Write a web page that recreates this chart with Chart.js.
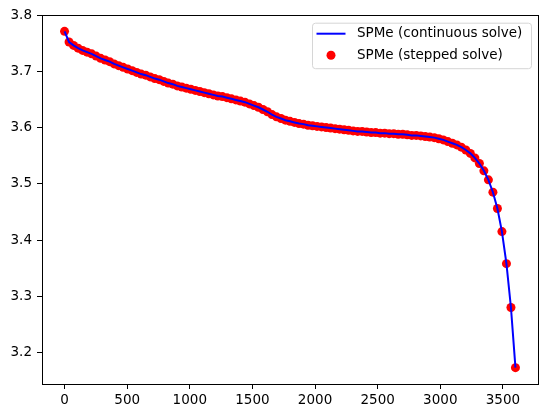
<!DOCTYPE html>
<html>
<head>
<meta charset="utf-8">
<script src="https://cdn.jsdelivr.net/npm/chart.js@4/dist/chart.umd.min.js"></script>
<style>
  html, body { margin: 0; padding: 0; background: #fff; }
  #wrap { width: 547px; height: 418px; }
</style>
</head>
<body>
<div id="wrap"><canvas id="myChart" width="547" height="418"></canvas></div>
<script>
// time [s] of each step
const times = [
  0, 36, 72, 108, 144, 180, 216, 252, 288, 324,
  360, 396, 432, 468, 504, 540, 576, 612, 648, 684,
  720, 756, 792, 828, 864, 900, 936, 972, 1008, 1044,
  1080, 1116, 1152, 1188, 1224, 1260, 1296, 1332, 1368, 1404,
  1440, 1476, 1512, 1548, 1584, 1620, 1656, 1692, 1728, 1764,
  1800, 1836, 1872, 1908, 1944, 1980, 2016, 2052, 2088, 2124,
  2160, 2196, 2232, 2268, 2304, 2340, 2376, 2412, 2448, 2484,
  2520, 2556, 2592, 2628, 2664, 2700, 2736, 2772, 2808, 2844,
  2880, 2916, 2952, 2988, 3024, 3060, 3096, 3132, 3168, 3204,
  3240, 3276, 3312, 3348, 3384, 3420, 3456, 3492, 3528, 3564,
  3600
];

// terminal voltage [V]
const voltage = [
  3.771, 3.752, 3.746, 3.741, 3.737, 3.734, 3.731, 3.727, 3.723, 3.720,
  3.717, 3.713, 3.710, 3.707, 3.704, 3.701, 3.698, 3.695, 3.693, 3.690,
  3.687, 3.685, 3.682, 3.679, 3.677, 3.674, 3.672, 3.670, 3.668, 3.666,
  3.664, 3.662, 3.660, 3.658, 3.656, 3.655, 3.653, 3.651, 3.649, 3.647,
  3.645, 3.642, 3.639, 3.636, 3.632, 3.628, 3.623, 3.619, 3.616, 3.613,
  3.611, 3.609, 3.607, 3.606, 3.604, 3.603, 3.602, 3.601, 3.600, 3.599,
  3.598, 3.597, 3.596, 3.595, 3.594, 3.593, 3.593, 3.592, 3.591, 3.591,
  3.590, 3.590, 3.589, 3.589, 3.588, 3.588, 3.587, 3.586, 3.586, 3.585,
  3.584, 3.583, 3.582, 3.580, 3.578, 3.575, 3.572, 3.569, 3.565, 3.560,
  3.554, 3.546, 3.536, 3.523, 3.507, 3.485, 3.456, 3.415, 3.358, 3.280,
  3.173
];

const xTicks = [0, 500, 1000, 1500, 2000, 2500, 3000, 3500];
const yTicks = [3.2, 3.3, 3.4, 3.5, 3.6, 3.7, 3.8];

const seriesNames = ['SPMe (continuous solve)', 'SPMe (stepped solve)'];

const points = times.map((t, i) => ({ x: t, y: voltage[i] }));

const FONT = 'DejaVu Sans';
const FONT_SIZE = 13.5;

// matplotlib-ish legend in the upper right of the axes
const boxLegend = {
  id: 'boxLegend',
  afterDraw(chart) {
    const ctx = chart.ctx;
    const area = chart.chartArea;
    const w = 219, h = 45.5;
    const x0 = area.right - 7 - w;
    const y0 = area.top + 7.7;
    ctx.save();
    ctx.beginPath();
    ctx.roundRect(x0 + 0.5, y0 + 0.5, w, h, 3);
    ctx.fillStyle = 'rgba(255,255,255,0.8)';
    ctx.fill();
    ctx.strokeStyle = '#d6d6d6';
    ctx.lineWidth = 1;
    ctx.stroke();

    const row1 = y0 + 11, row2 = y0 + 32.5;
    // line handle
    ctx.beginPath();
    ctx.moveTo(x0 + 4.5, row1);
    ctx.lineTo(x0 + 33.5, row1);
    ctx.strokeStyle = 'blue';
    ctx.lineWidth = 2;
    ctx.stroke();
    // marker handle
    ctx.beginPath();
    ctx.arc(x0 + 19, row2, 4.5, 0, Math.PI * 2);
    ctx.fillStyle = 'red';
    ctx.fill();

    ctx.fillStyle = '#000';
    ctx.font = FONT_SIZE + 'px "' + FONT + '"';
    ctx.textBaseline = 'middle';
    ctx.textAlign = 'left';
    ctx.fillText(seriesNames[0], x0 + 45, row1);
    ctx.fillText(seriesNames[1], x0 + 45, row2);
    ctx.restore();
  }
};

const ctx = document.getElementById('myChart');
const myChart = new Chart(ctx, {
  type: 'scatter',
  data: {
    datasets: [
      {
        label: seriesNames[0],
        data: points,
        showLine: true,
        borderColor: 'blue',
        borderWidth: 2,
        pointRadius: 0,
        tension: 0,
        order: 0
      },
      {
        label: seriesNames[1],
        data: points,
        showLine: false,
        backgroundColor: 'red',
        borderWidth: 0,
        pointRadius: 4.5,
        order: 1
      }
    ]
  },
  options: {
    responsive: false,
    animation: false,
    devicePixelRatio: 1,
    layout: { padding: { top: 15, right: 9, left: 0, bottom: 0 } },
    plugins: {
      legend: { display: false },
      tooltip: { enabled: false }
    },
    scales: {
      x: {
        type: 'linear',
        position: 'bottom',
        min: -180,
        max: 3780,
        afterBuildTicks: (s) => { s.ticks = xTicks.map(v => ({ value: v })); },
        afterFit: (s) => { s.height = 34; },
        border: { color: '#000', width: 1 },
        grid: { drawOnChartArea: false, drawTicks: true, tickLength: 5, color: '#000' },
        ticks: {
          color: '#000', padding: 3, maxRotation: 0,
          font: { family: FONT, size: FONT_SIZE },
          callback: (v) => String(v)
        }
      },
      y: {
        type: 'linear',
        position: 'left',
        min: 3.144,
        max: 3.8,
        afterBuildTicks: (s) => { s.ticks = yTicks.map(v => ({ value: v })); },
        afterFit: (s) => { s.width = 42; },
        border: { color: '#000', width: 1 },
        grid: { drawOnChartArea: false, drawTicks: true, tickLength: 5, color: '#000' },
        ticks: {
          color: '#000', padding: 5,
          font: { family: FONT, size: FONT_SIZE },
          callback: (v) => v.toFixed(1)
        }
      },
      xTop: {
        type: 'linear',
        position: 'top',
        min: -180,
        max: 3780,
        afterFit: (s) => { s.height = 0; },
        border: { color: '#000', width: 1 },
        grid: { display: false, drawTicks: false },
        ticks: { display: false }
      },
      yRight: {
        type: 'linear',
        position: 'right',
        min: 3.144,
        max: 3.8,
        afterFit: (s) => { s.width = 0; },
        border: { color: '#000', width: 1 },
        grid: { display: false, drawTicks: false },
        ticks: { display: false }
      }
    }
  },
  plugins: [boxLegend]
});
</script>
</body>
</html>
